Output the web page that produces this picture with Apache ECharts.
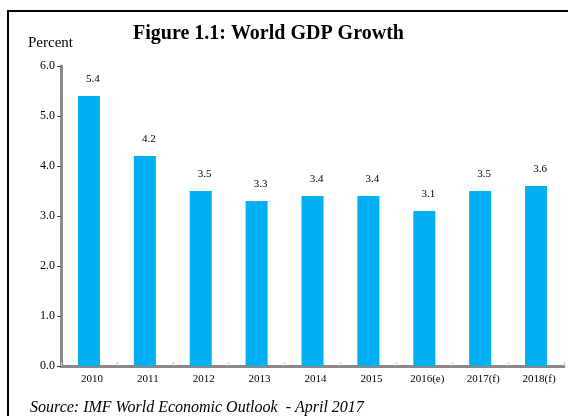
<!DOCTYPE html>
<html>
<head>
<meta charset="utf-8">
<script src="https://cdn.jsdelivr.net/npm/echarts@6/dist/echarts.min.js"></script>
<style>
html,body{margin:0;padding:0;background:#fff;}
#chart{width:568px;height:416px;}
</style>
</head>
<body>
<div id="chart"></div>
<script>
var categories = ['2010','2011','2012','2013','2014','2015','2016(e)','2017(f)','2018(f)'];
var growthValues = [5.4, 4.2, 3.5, 3.3, 3.4, 3.4, 3.1, 3.5, 3.6];
var yTickMin = 0;
var yTickMax = 6;
var yTickInterval = 1;

var serif = '"Liberation Serif", "Times New Roman", serif';
var chart = echarts.init(document.getElementById('chart'), null, {renderer: 'canvas'});
chart.setOption({
  backgroundColor: '#ffffff',
  animation: false,
  title: [{
    text: 'Figure 1.1: World GDP Growth',
    left: 133, top: 24, padding: 0,
    textStyle: {fontFamily: serif, fontSize: 20, fontWeight: 'bold', color: '#000'}
  }, {
    text: 'Source: IMF World Economic Outlook  - April 2017',
    left: 30, top: 400, padding: 0,
    textStyle: {fontFamily: serif, fontSize: 16, fontStyle: 'italic', fontWeight: 'normal', color: '#000'}
  }, {
    text: 'Percent',
    left: 28, top: 36, padding: 0,
    textStyle: {fontFamily: serif, fontSize: 15, fontWeight: 'normal', color: '#000'}
  }],
  graphic: [{
    type: 'rect',
    shape: {x: 8, y: 11, width: 600, height: 500},
    style: {fill: null, stroke: '#000', lineWidth: 2},
    silent: true
  }],
  grid: {left: 61, right: 4, top: 66, bottom: 50},
  xAxis: {
    type: 'category',
    data: categories,
    axisLine: {lineStyle: {color: '#8a8a8a', width: 3}},
    axisTick: {show: true, inside: true, length: 4, lineStyle: {color: '#c8c8c8', width: 1}},
    axisLabel: {fontFamily: serif, fontSize: 11, color: '#000', margin: 8, padding: [0, 0, 0, 6]}
  },
  yAxis: {
    type: 'value',
    min: yTickMin, max: yTickMax, interval: yTickInterval,
    splitLine: {show: false},
    axisLine: {show: true, lineStyle: {color: '#8a8a8a', width: 3}},
    axisTick: {show: true, length: 4, lineStyle: {color: '#444', width: 1}},
    axisLabel: {fontFamily: serif, fontSize: 12, color: '#000', margin: 6,
      formatter: function (v) { return v.toFixed(1); }}
  },
  series: [{
    type: 'bar',
    data: growthValues,
    barWidth: 22,
    itemStyle: {color: '#00b0f0'},
    label: {
      show: true, position: 'top', distance: 11,
      fontFamily: serif, fontSize: 11, color: '#000', offset: [4, 0],
      formatter: function (p) { return p.value.toFixed(1); }
    }
  }]
});
</script>
</body>
</html>
